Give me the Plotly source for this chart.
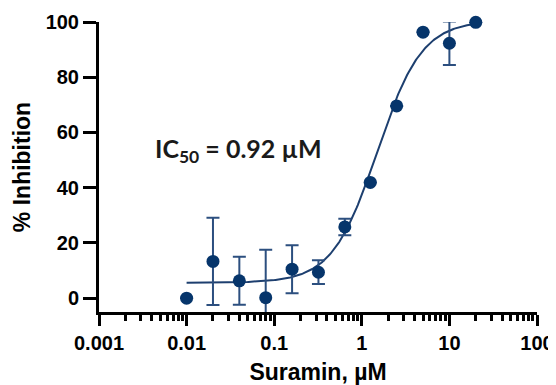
import plotly.graph_objects as go
import numpy as np

# Data
conc = [0.01, 0.02, 0.04, 0.08, 0.16, 0.32, 0.64, 1.25, 2.5, 5, 10, 20]
inhib = [0.0, 13.3, 6.3, 0.2, 10.5, 9.4, 25.8, 41.9, 69.6, 96.3, 92.3, 99.9]
sd = [None, 15.8, 8.7, 17.3, 8.7, 4.3, 3.0, None, None, None, 7.9, None]

# Fitted 4PL parameters
fit_bottom = 5.6
fit_top = 100.5
fit_logec50 = 0.175
fit_hill = 1.7

xtick_vals = [0.001, 0.01, 0.1, 1, 10, 100]
xtick_text = ["0.001", "0.01", "0.1", "1", "10", "100"]
ytick_vals = [0, 20, 40, 60, 80, 100]

navy = "#06356b"
bar_col = "#2c4f7f"
line_col = "#1d3f6f"

xfit = np.logspace(np.log10(conc[0]), np.log10(conc[-1]), 300)
yfit = fit_bottom + (fit_top - fit_bottom) / (1 + 10 ** ((fit_logec50 - np.log10(xfit)) * fit_hill))

fig = go.Figure()
fig.add_trace(go.Scatter(x=xfit, y=yfit, mode="lines",
                         line=dict(color=line_col, width=2), hoverinfo="skip", showlegend=False))
fig.add_trace(go.Scatter(x=conc, y=inhib, mode="markers",
                         marker=dict(size=1, color="rgba(0,0,0,0)"),
                         error_y=dict(type="data", array=sd, visible=True,
                                      color=bar_col, thickness=2, width=6.5),
                         showlegend=False))
fig.add_trace(go.Scatter(x=conc, y=inhib, mode="markers", cliponaxis=False,
                         marker=dict(size=13, color=navy), showlegend=False))

fig.add_annotation(
    x=np.log10(0.0394), y=53.8, xref="x", yref="y",
    text="IC<sub>50</sub> = 0.92 µM", showarrow=False,
    font=dict(family="Lato", size=25, color="#1a1a1a", weight="bold"),
)

axis_font = dict(family="Liberation Sans, Arial", size=20, color="black", weight="bold")
title_font = dict(family="Liberation Sans, Arial", size=23, color="black", weight="bold")

# page body adds an 8px offset on the left/top; size/margins compensate for it
fig.update_layout(
    width=548, height=377,
    margin=dict(l=91, r=19, t=14, b=73),
    paper_bgcolor="white", plot_bgcolor="white",
    showlegend=False,
    xaxis=dict(
        type="log", range=[-3, 2], automargin=False,
        tickvals=xtick_vals, ticktext=xtick_text,
        ticks="outside", ticklen=11, tickwidth=3, tickcolor="black",
        showline=True, linewidth=3, linecolor="black",
        showgrid=False, zeroline=False,
        tickfont=axis_font,
        minor=dict(ticks="outside", ticklen=6, tickwidth=2.5, tickcolor="black",
                   dtick="D1", showgrid=False),
        title=dict(text="Suramin, µM", font=title_font, standoff=11),
    ),
    yaxis=dict(
        range=[-5, 100], automargin=False,
        tickvals=ytick_vals,
        ticks="outside", ticklen=13, tickwidth=3, tickcolor="black",
        showline=True, linewidth=3, linecolor="black",
        showgrid=False, zeroline=False,
        tickfont=axis_font,
        title=dict(text="% Inhibition", font=title_font, standoff=9),
    ),
)

fig.write_html("out.html")
